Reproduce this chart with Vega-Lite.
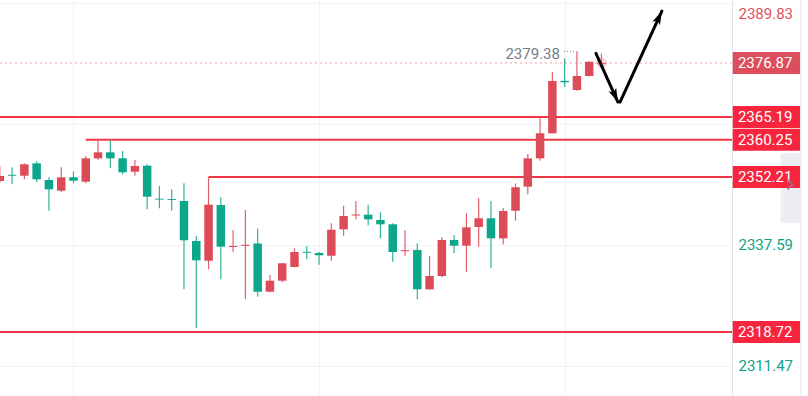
{
  "$schema": "https://vega.github.io/schema/vega-lite/v6.json",
  "width": 732,
  "height": 396,
  "autosize": "none",
  "padding": {"left": 0, "top": 0, "right": 76, "bottom": 0},
  "background": "#ffffff",
  "config": {"view": {"stroke": null}, "font": "Roboto", "scale": {"continuousPadding": 0}},
  "datasets": {
    "candles": [
      {"i": 0, "o": 2351.36, "h": 2354.60, "l": 2350.93, "c": 2352.44},
      {"i": 1, "o": 2352.70, "h": 2354.32, "l": 2350.65, "c": 2352.50},
      {"i": 2, "o": 2352.50, "h": 2355.18, "l": 2351.73, "c": 2354.97},
      {"i": 3, "o": 2355.18, "h": 2355.62, "l": 2351.14, "c": 2351.73},
      {"i": 4, "o": 2351.57, "h": 2352.16, "l": 2344.94, "c": 2349.56},
      {"i": 5, "o": 2349.26, "h": 2354.32, "l": 2348.92, "c": 2352.16},
      {"i": 6, "o": 2352.16, "h": 2353.45, "l": 2350.86, "c": 2351.42},
      {"i": 7, "o": 2351.21, "h": 2356.76, "l": 2350.86, "c": 2356.26},
      {"i": 8, "o": 2356.26, "h": 2360.25, "l": 2355.90, "c": 2357.56},
      {"i": 9, "o": 2357.56, "h": 2360.10, "l": 2354.10, "c": 2356.26},
      {"i": 10, "o": 2356.26, "h": 2357.84, "l": 2352.81, "c": 2353.24},
      {"i": 11, "o": 2353.37, "h": 2355.90, "l": 2352.50, "c": 2354.60},
      {"i": 12, "o": 2354.67, "h": 2354.97, "l": 2345.24, "c": 2347.97},
      {"i": 13, "o": 2347.55, "h": 2350.28, "l": 2345.46, "c": 2347.35},
      {"i": 14, "o": 2347.45, "h": 2349.56, "l": 2344.94, "c": 2347.25},
      {"i": 15, "o": 2347.04, "h": 2350.86, "l": 2327.95, "c": 2338.54},
      {"i": 16, "o": 2338.39, "h": 2339.47, "l": 2319.52, "c": 2334.22},
      {"i": 17, "o": 2334.13, "h": 2352.21, "l": 2332.28, "c": 2346.24},
      {"i": 18, "o": 2346.17, "h": 2347.84, "l": 2330.11, "c": 2337.16},
      {"i": 19, "o": 2337.10, "h": 2340.77, "l": 2336.08, "c": 2337.32},
      {"i": 20, "o": 2337.35, "h": 2345.09, "l": 2325.79, "c": 2337.58},
      {"i": 21, "o": 2337.85, "h": 2341.09, "l": 2326.35, "c": 2327.43},
      {"i": 22, "o": 2327.43, "h": 2331.04, "l": 2327.30, "c": 2329.81},
      {"i": 23, "o": 2329.81, "h": 2333.60, "l": 2329.53, "c": 2333.57},
      {"i": 24, "o": 2332.77, "h": 2336.81, "l": 2332.70, "c": 2336.01},
      {"i": 25, "o": 2336.05, "h": 2337.31, "l": 2334.44, "c": 2335.85},
      {"i": 26, "o": 2335.80, "h": 2336.08, "l": 2333.27, "c": 2335.30},
      {"i": 27, "o": 2335.21, "h": 2342.22, "l": 2334.13, "c": 2340.83},
      {"i": 28, "o": 2340.92, "h": 2346.02, "l": 2339.54, "c": 2343.79},
      {"i": 29, "o": 2343.90, "h": 2347.04, "l": 2343.08, "c": 2344.12},
      {"i": 30, "o": 2344.08, "h": 2346.24, "l": 2341.78, "c": 2343.08},
      {"i": 31, "o": 2342.93, "h": 2344.59, "l": 2338.97, "c": 2342.00},
      {"i": 32, "o": 2342.00, "h": 2342.22, "l": 2333.92, "c": 2336.01},
      {"i": 33, "o": 2336.18, "h": 2340.77, "l": 2335.21, "c": 2336.40},
      {"i": 34, "o": 2336.45, "h": 2337.89, "l": 2325.79, "c": 2327.95},
      {"i": 35, "o": 2327.95, "h": 2335.15, "l": 2327.85, "c": 2330.83},
      {"i": 36, "o": 2330.83, "h": 2339.19, "l": 2330.55, "c": 2338.61},
      {"i": 37, "o": 2338.61, "h": 2339.69, "l": 2335.73, "c": 2337.38},
      {"i": 38, "o": 2337.38, "h": 2344.38, "l": 2331.76, "c": 2341.35},
      {"i": 39, "o": 2341.42, "h": 2347.62, "l": 2337.16, "c": 2343.30},
      {"i": 40, "o": 2343.30, "h": 2347.04, "l": 2332.49, "c": 2338.97},
      {"i": 41, "o": 2338.97, "h": 2345.46, "l": 2337.68, "c": 2344.87},
      {"i": 42, "o": 2344.94, "h": 2350.86, "l": 2342.78, "c": 2350.00},
      {"i": 43, "o": 2350.13, "h": 2357.19, "l": 2348.48, "c": 2356.26},
      {"i": 44, "o": 2356.26, "h": 2365.13, "l": 2355.75, "c": 2361.67},
      {"i": 45, "o": 2361.67, "h": 2374.98, "l": 2361.60, "c": 2372.97},
      {"i": 46, "o": 2373.00, "h": 2377.88, "l": 2371.74, "c": 2372.70},
      {"i": 47, "o": 2371.03, "h": 2379.38, "l": 2370.87, "c": 2374.05},
      {"i": 48, "o": 2374.05, "h": 2377.20, "l": 2373.95, "c": 2377.14},
      {"i": 49, "o": 2376.62, "h": 2378.90, "l": 2376.50, "c": 2376.87}
    ],
    "levels": [
      {"price": 2365.19, "start": -1},
      {"price": 2360.25, "start": 7},
      {"price": 2352.21, "start": 17},
      {"price": 2318.72, "start": -1}
    ],
    "current": [{"i": 49, "price": 2376.87}],
    "peak": [{"i": 47, "price": 2379.38}],
    "arrows": [
      {"seg": "down", "pt": "start", "x": 48.55, "y": 2378.96},
      {"seg": "down", "pt": "end", "x": 50.34, "y": 2368.43},
      {"seg": "up", "pt": "start", "x": 50.51, "y": 2368.43},
      {"seg": "up", "pt": "end", "x": 53.92, "y": 2388.10}
    ]
  },
  "layer": [
    {
      "data": {"name": "current"},
      "mark": {"type": "rule", "stroke": "#f29ca5", "strokeWidth": 1, "strokeDash": [2, 3]},
      "encoding": {
        "y": {"field": "price", "type": "quantitative", "scale": {"domain": [2304.89, 2390.48], "nice": false, "zero": false, "padding": 0},
          "axis": {"orient": "right", "title": null, "values": [2311.47, 2337.59, 2363.71, 2389.83], "format": ".2f",
            "labelExpr": "datum.value > 2350 && datum.value < 2380 ? '' : datum.label",
            "grid": true, "gridColor": "#f0f3fa", "gridWidth": 1, "ticks": false, "domain": true, "domainColor": "#e0e3eb",
            "labelPadding": 6, "labelFont": "Roboto", "labelFontSize": 15, "labelOverlap": false,
            "labelFlush": 5, "labelFlushOffset": -3,
            "labelColor": {"condition": {"test": "datum.value > 2380", "value": "#e0505e"}, "value": "#0ea386"}}}
      }
    },
    {
      "data": {"name": "levels"},
      "mark": {"type": "rule", "stroke": "#f23645", "strokeWidth": 2},
      "encoding": {
        "x": {"field": "start", "type": "quantitative", "scale": {"domain": [0.016, 59.63], "nice": false, "zero": false, "padding": 0},
          "axis": {"values": [6, 26, 46], "grid": true, "gridColor": "#f0f3fa", "labels": false, "ticks": false, "domain": false, "title": null}},
        "x2": {"datum": 59.63},
        "y": {"field": "price", "type": "quantitative", "axis": {"title": null}}
      }
    },
    {
      "data": {"name": "candles"},
      "mark": {"type": "rule", "strokeWidth": 1.2},
      "encoding": {
        "x": {"field": "i", "type": "quantitative", "axis": {"title": null}},
        "y": {"field": "l", "type": "quantitative", "axis": {"title": null}},
        "y2": {"field": "h"},
        "color": {"condition": {"test": "datum.c >= datum.o", "value": "#e0606c"}, "value": "#2fb396"}
      }
    },
    {
      "data": {"name": "candles"},
      "mark": {"type": "bar", "orient": "vertical", "width": 8.5, "minBandSize": 1},
      "encoding": {
        "x": {"field": "i", "type": "quantitative", "axis": {"title": null}},
        "y": {"field": "o", "type": "quantitative", "axis": {"title": null}},
        "y2": {"field": "c"},
        "color": {"condition": {"test": "datum.c >= datum.o", "value": "#dd4b59"}, "value": "#0ca68a"}
      }
    },
    {
      "data": {"name": "peak"},
      "mark": {"type": "rule", "stroke": "#787b86", "strokeWidth": 1, "strokeDash": [1, 2]},
      "encoding": {
        "x": {"datum": 45.94},
        "x2": {"datum": 46.92},
        "y": {"field": "price", "type": "quantitative", "axis": {"title": null}}
      }
    },
    {
      "data": {"name": "peak"},
      "mark": {"type": "text", "align": "right", "baseline": "middle", "dy": 3, "dx": -1, "font": "Roboto", "fontSize": 15, "color": "#787b86"},
      "encoding": {
        "x": {"datum": 45.7},
        "y": {"field": "price", "type": "quantitative", "axis": {"title": null}},
        "text": {"field": "price", "type": "quantitative", "format": ".2f"}
      }
    },
    {
      "data": {"name": "current"},
      "mark": {"type": "point", "filled": true, "size": 110, "color": "#f07a86", "opacity": 0.35},
      "encoding": {
        "x": {"field": "i", "type": "quantitative", "axis": {"title": null}},
        "y": {"field": "price", "type": "quantitative", "axis": {"title": null}}
      }
    },
    {
      "data": {"name": "arrows"},
      "mark": {"type": "line", "color": "#000000", "strokeWidth": 3, "strokeCap": "round"},
      "encoding": {
        "x": {"field": "x", "type": "quantitative", "axis": {"title": null}},
        "y": {"field": "y", "type": "quantitative", "axis": {"title": null}},
        "detail": {"field": "seg"}
      }
    },
    {
      "data": {"name": "arrows"},
      "transform": [{"filter": "datum.seg == 'down' && datum.pt == 'end'"}],
      "mark": {"type": "point", "filled": true, "opacity": 1, "color": "#000000", "size": 110, "angle": 155.7, "shape": "M0,0L0.8,2.6L0,2.0L-0.8,2.6Z"},
      "encoding": {
        "x": {"field": "x", "type": "quantitative", "axis": {"title": null}},
        "y": {"field": "y", "type": "quantitative", "axis": {"title": null}}
      }
    },
    {
      "data": {"name": "arrows"},
      "transform": [{"filter": "datum.seg == 'up' && datum.pt == 'end'"}],
      "mark": {"type": "point", "filled": true, "opacity": 1, "color": "#000000", "size": 110, "angle": 24.8, "shape": "M0,0L0.8,2.6L0,2.0L-0.8,2.6Z"},
      "encoding": {
        "x": {"field": "x", "type": "quantitative", "axis": {"title": null}},
        "y": {"field": "y", "type": "quantitative", "axis": {"title": null}}
      }
    },
    {
      "data": {"values": [{}]},
      "mark": {"type": "rect", "color": "#eceef2"},
      "encoding": {
        "x": {"datum": 63.6},
        "x2": {"datum": 65.17},
        "y": {"datum": 2357.41},
        "y2": {"datum": 2342.28}
      }
    },
    {
      "data": {"values": [{}]},
      "mark": {"type": "rule", "stroke": "#e0e3eb", "strokeWidth": 1},
      "encoding": {"x": {"datum": 65.24}}
    },
    {
      "data": {"name": "levels"},
      "mark": {"type": "tick", "orient": "horizontal", "size": 67.3, "thickness": 22, "color": "#f7253e", "opacity": 1},
      "encoding": {
        "x": {"datum": 62.43},
        "y": {"field": "price", "type": "quantitative", "axis": {"title": null}}
      }
    },
    {
      "data": {"name": "current"},
      "mark": {"type": "tick", "orient": "horizontal", "size": 67.3, "thickness": 22, "color": "#dc4e5b", "opacity": 1},
      "encoding": {
        "x": {"datum": 62.43},
        "y": {"field": "price", "type": "quantitative", "axis": {"title": null}}
      }
    },
    {
      "data": {"name": "levels"},
      "mark": {"type": "text", "align": "left", "baseline": "middle", "font": "Roboto", "fontSize": 15, "color": "#ffffff"},
      "encoding": {
        "x": {"datum": 60.11},
        "y": {"field": "price", "type": "quantitative", "axis": {"title": null}},
        "text": {"field": "price", "type": "quantitative", "format": ".2f"}
      }
    },
    {
      "data": {"name": "current"},
      "mark": {"type": "text", "align": "left", "baseline": "middle", "font": "Roboto", "fontSize": 15, "color": "#ffffff"},
      "encoding": {
        "x": {"datum": 60.11},
        "y": {"field": "price", "type": "quantitative", "axis": {"title": null}},
        "text": {"field": "price", "type": "quantitative", "format": ".2f"}
      }
    },
    {
      "data": {"values": [{}]},
      "mark": {"type": "point", "filled": false, "shape": "M-0.5,-1L0.5,0L-0.5,1", "size": 100, "stroke": "#7d8190", "strokeWidth": 1.5, "opacity": 1},
      "encoding": {
        "x": {"datum": 64.35},
        "y": {"datum": 2350.6}
      }
    }
  ]
}
